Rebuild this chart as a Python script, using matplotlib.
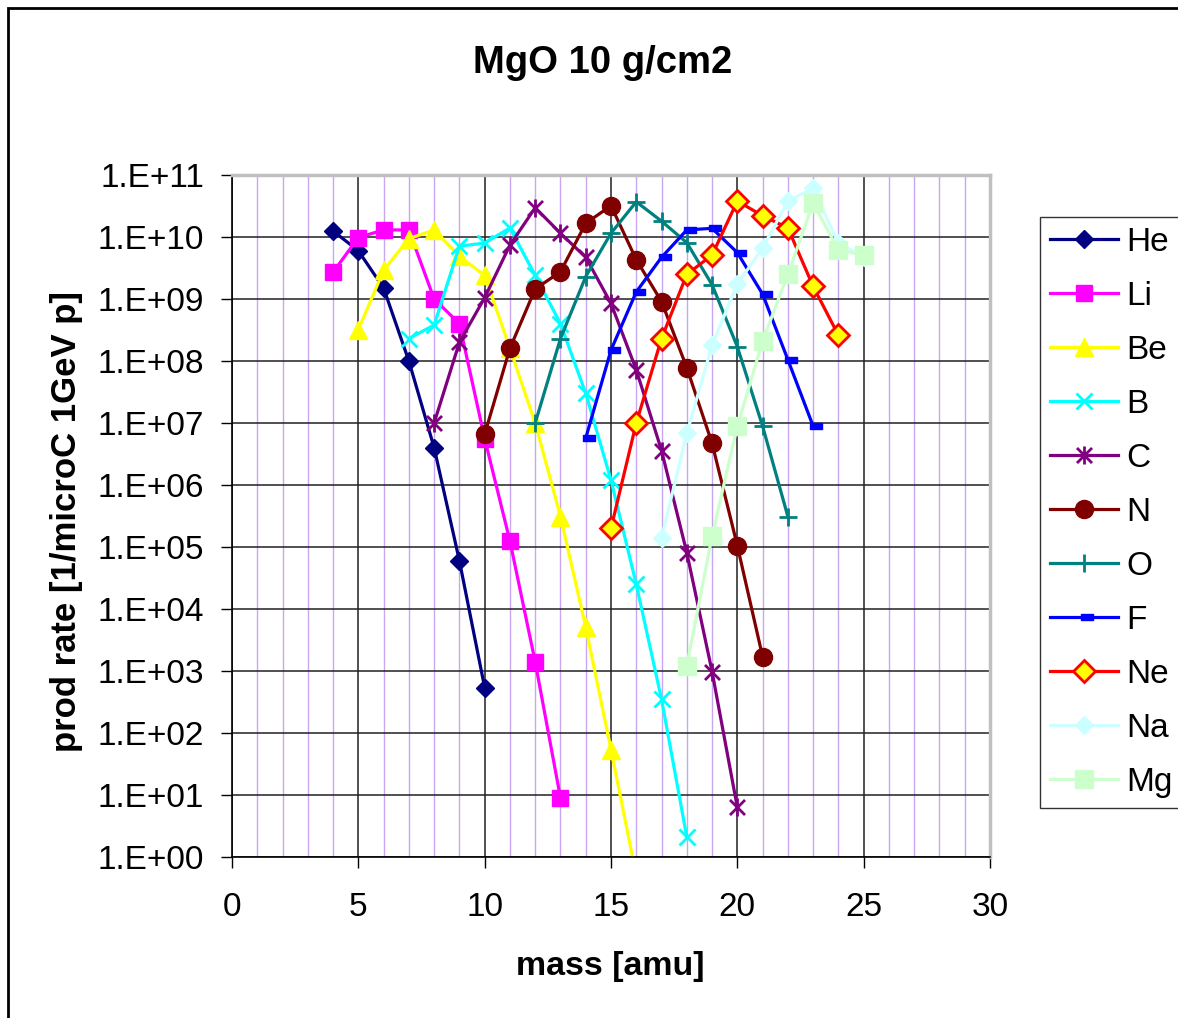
import numpy as np
import matplotlib
matplotlib.use('Agg')
import matplotlib.pyplot as plt
from matplotlib.path import Path
from matplotlib.ticker import FixedLocator, FuncFormatter, MultipleLocator
from matplotlib.patches import Rectangle

plt.rcParams['font.family'] = ['Liberation Sans', 'DejaVu Sans']

# production rates per isotope mass
he_mass = [4, 5, 6, 7, 8, 9, 10]
he_rate = [1.25e10, 6e9, 1.5e9, 1e8, 4e6, 6e4, 5.4e2]
li_mass = [4, 5, 6, 7, 8, 9, 10, 11, 12, 13]
li_rate = [2.7e9, 9.8e9, 1.3e10, 1.3e10, 1e9, 4e8, 5.6e6, 1.25e5, 1.4e3, 9]
be_mass = [5, 6, 7, 8, 9, 10, 11, 12, 13, 14, 15, 16]
be_rate = [3.2e8, 2.9e9, 9.4e9, 1.3e10, 4.9e9, 2.4e9, 1.6e8, 1e7, 3.1e5, 5.1e3, 54, 0.5]
b_mass = [7, 8, 9, 10, 11, 12, 13, 14, 15, 16, 17, 18]
b_rate = [2.3e8, 3.8e8, 7.1e9, 8e9, 1.4e10, 2.4e9, 4e8, 3e7, 1.2e6, 2.5e4, 350, 2.1]
c_mass = [8, 9, 10, 11, 12, 13, 14, 15, 16, 17, 18, 19, 20]
c_rate = [1e7, 2e8, 1.05e9, 7.4e9, 2.97e10, 1.15e10, 4.7e9, 8.5e8, 7.2e7, 3.6e6, 8.1e4, 980, 6.3]
n_mass = [10, 11, 12, 13, 14, 15, 16, 17, 18, 19, 20, 21]
n_rate = [6.6e6, 1.6e8, 1.45e9, 2.75e9, 1.66e10, 3.2e10, 4.3e9, 9.1e8, 7.8e7, 4.7e6, 1.05e5, 1.7e3]
o_mass = [12, 13, 14, 15, 16, 17, 18, 19, 20, 21, 22]
o_rate = [1e7, 2.3e8, 2.3e9, 1.15e10, 3.7e10, 1.8e10, 8.1e9, 1.7e9, 1.7e8, 8.9e6, 3.1e5]
f_mass = [14, 15, 16, 17, 18, 19, 20, 21, 22, 23]
f_rate = [5.7e6, 1.5e8, 1.3e9, 4.7e9, 1.3e10, 1.38e10, 5.6e9, 1.2e9, 1.05e8, 8.9e6]
ne_mass = [15, 16, 17, 18, 19, 20, 21, 22, 23, 24]
ne_rate = [2e5, 1e7, 2.3e8, 2.5e9, 5.1e9, 3.8e10, 2.2e10, 1.4e10, 1.6e9, 2.6e8]
na_mass = [17, 18, 19, 20, 21, 22, 23, 24, 25]
na_rate = [1.4e5, 6.8e6, 1.8e8, 1.75e9, 6.6e9, 3.8e10, 6.1e10, 8e9, 4.8e9]
mg_mass = [18, 19, 20, 21, 22, 23, 24, 25]
mg_rate = [1.2e3, 1.5e5, 8.9e6, 2.1e8, 2.5e9, 3.5e10, 6.2e9, 5.1e9]

# excel-like markers
star = Path([(-0.5, -0.5), (0.5, 0.5), (-0.5, 0.5), (0.5, -0.5), (0, -0.6), (0, 0.6)],
            [Path.MOVETO, Path.LINETO, Path.MOVETO, Path.LINETO, Path.MOVETO, Path.LINETO])
dash = Path([(-0.25, -0.28), (0.75, -0.28), (0.75, 0.28), (-0.25, 0.28), (-0.25, -0.28)],
            [Path.MOVETO, Path.LINETO, Path.LINETO, Path.LINETO, Path.CLOSEPOLY])

series = [
    ('He', he_mass, he_rate, dict(color='#000080', marker='D', ms=9.5)),
    ('Li', li_mass, li_rate, dict(color='#ff00ff', marker='s', ms=12)),
    ('Be', be_mass, be_rate, dict(color='#ffff00', marker='^', ms=13)),
    ('B', b_mass, b_rate, dict(color='#00ffff', marker='x', ms=12, mew=2)),
    ('C', c_mass, c_rate, dict(color='#800080', marker=star, ms=13, mew=2)),
    ('N', n_mass, n_rate, dict(color='#800000', marker='o', ms=13)),
    ('O', o_mass, o_rate, dict(color='#008080', marker='+', ms=13, mew=2)),
    ('F', f_mass, f_rate, dict(color='#0000ff', marker=dash, ms=13)),
    ('Ne', ne_mass, ne_rate, dict(color='#ff0000', marker='D', ms=11, mfc='#ffff00', mec='#ff0000', mew=2)),
    ('Na', na_mass, na_rate, dict(color='#ccffff', marker='D', ms=9.5)),
    ('Mg', mg_mass, mg_rate, dict(color='#ccffcc', marker='s', ms=13)),
]

fig = plt.figure(figsize=(11.78, 10.18), dpi=100)
ax = fig.add_axes([232 / 1178, 1 - 857 / 1018, 758 / 1178, 682 / 1018])

handles = []
for name, m, r, st in series:
    ln, = ax.plot(m, r, '-', lw=2.3, label=name, **st)
    handles.append(ln)

ax.set_yscale('log')
ax.set_xlim(0, 30)
ax.set_ylim(1, 1e11)
ax.xaxis.set_major_locator(MultipleLocator(5))
ax.xaxis.set_minor_locator(MultipleLocator(1))
ax.yaxis.set_major_locator(FixedLocator([10.0 ** k for k in range(0, 12)]))
ax.yaxis.set_minor_locator(FixedLocator([]))
ax.yaxis.set_major_formatter(FuncFormatter(lambda v, p: '1.E+%02d' % int(round(np.log10(v)))))

ax.grid(which='minor', axis='x', color='#c9a6f2', lw=1)
ax.grid(which='major', axis='both', color='#202020', lw=1.1)
ax.set_axisbelow(True)

ax.tick_params(which='major', direction='out', length=8, width=1, labelsize=24, pad=12)
ax.tick_params(axis='x', which='major', pad=17)
ax.tick_params(which='minor', length=0)

for s in ['left', 'bottom']:
    ax.spines[s].set_color('black')
    ax.spines[s].set_linewidth(1.2)
for s in ['top', 'right']:
    ax.spines[s].set_color('#c0c0c0')
    ax.spines[s].set_linewidth(2.5)

fig.text(603 / 1178, 1 - 63 / 1018, 'MgO 10 g/cm2', ha='center', va='center',
         fontsize=27.5, fontweight='bold')
fig.text(610 / 1178, 1 - 966 / 1018, 'mass [amu]', ha='center', va='center',
         fontsize=24.5, fontweight='bold')
fig.text(67 / 1178, 1 - 521 / 1018, 'prod rate [1/microC 1GeV p]', ha='center', va='center',
         rotation=90, fontsize=25, fontweight='bold')

leg = fig.legend(handles=handles, loc='upper left', bbox_to_anchor=(1040 / 1178, 1 - 217 / 1018),
                 fontsize=24, frameon=True, fancybox=False, edgecolor='black',
                 handlelength=2.05, handletextpad=0.25, labelspacing=0.69, borderpad=0.3,
                 borderaxespad=0)
leg.get_frame().set_linewidth(1)

fig.patches.append(Rectangle((8 / 1178, -0.05), 1.2, 1 - 8 / 1018 + 0.05, transform=fig.transFigure,
                             fill=False, edgecolor='black', lw=2))

fig.savefig('out.png', dpi=100)
